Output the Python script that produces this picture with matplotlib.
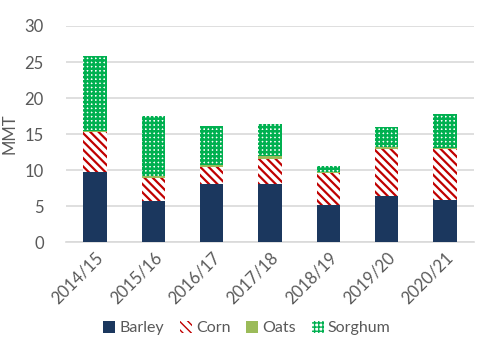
import matplotlib
matplotlib.use("Agg")
import matplotlib.pyplot as plt
import numpy as np

# 시즌별 곡물 생산량 (MMT)
seasons = ["2014/15", "2015/16", "2016/17", "2017/18", "2018/19", "2019/20", "2020/21"]
barley = [9.8, 5.7, 8.0, 8.1, 5.1, 6.4, 5.9]
corn = [5.5, 3.2, 2.45, 3.4, 4.5, 6.55, 7.0]
oats = [0.1, 0.3, 0.25, 0.5, 0.2, 0.25, 0.15]
sorghum = [10.4, 8.25, 5.35, 4.4, 0.75, 2.8, 4.7]

plt.rcParams["font.family"] = ["Lato", "DejaVu Sans"]
TXT = "#595959"

fig = plt.figure(figsize=(4.97, 3.54), dpi=100)
ax = fig.add_axes([66 / 497, 0.316, 408 / 497, 0.6106])

x = np.arange(len(seasons))
w = 0.4
bottom = np.zeros(len(seasons))

ax.bar(x, barley, w, bottom=bottom, color="#1B375E", label="Barley", zorder=3)
bottom += barley
with plt.rc_context({"hatch.linewidth": 1.6}):
    ax.bar(x, corn, w, bottom=bottom, facecolor="white", edgecolor="#C00000",
           hatch="\\\\\\\\", linewidth=0, label="Corn", zorder=3)
bottom += corn
ax.bar(x, oats, w, bottom=bottom, color="#9BBB59", label="Oats", zorder=3)
bottom += oats
with plt.rc_context({"hatch.linewidth": 1.8}):
    ax.bar(x, sorghum, w, bottom=bottom, facecolor="white", edgecolor="#00B050",
           hatch="++++", linewidth=0, label="Sorghum", zorder=3)

ax.set_ylim(0, 30)
ax.set_xlim(-0.5, len(seasons) - 0.5)
ax.set_yticks(range(0, 31, 5))
ax.set_xticks(x)
ax.set_xticklabels(seasons, rotation=45, ha="right", rotation_mode="anchor")
ax.tick_params(length=0, labelsize=12, colors=TXT)
ax.tick_params(axis="x", pad=5)
ax.tick_params(axis="y", pad=16)
ax.yaxis.grid(True, color="#D9D9D9", linewidth=1.2, zorder=0)
for s in ["top", "right", "left"]:
    ax.spines[s].set_visible(False)
ax.spines["bottom"].set_color("#D9D9D9")
ax.spines["bottom"].set_linewidth(1.2)
ax.set_ylabel("MMT", fontsize=12, color=TXT, labelpad=5)

fig.legend(loc="center", bbox_to_anchor=(0.497, 0.073), ncol=4, frameon=False,
           fontsize=11.5, labelcolor=TXT, handlelength=0.75, handleheight=0.75,
           handletextpad=0.25, columnspacing=1.0)

fig.savefig("out.png", dpi=100)
